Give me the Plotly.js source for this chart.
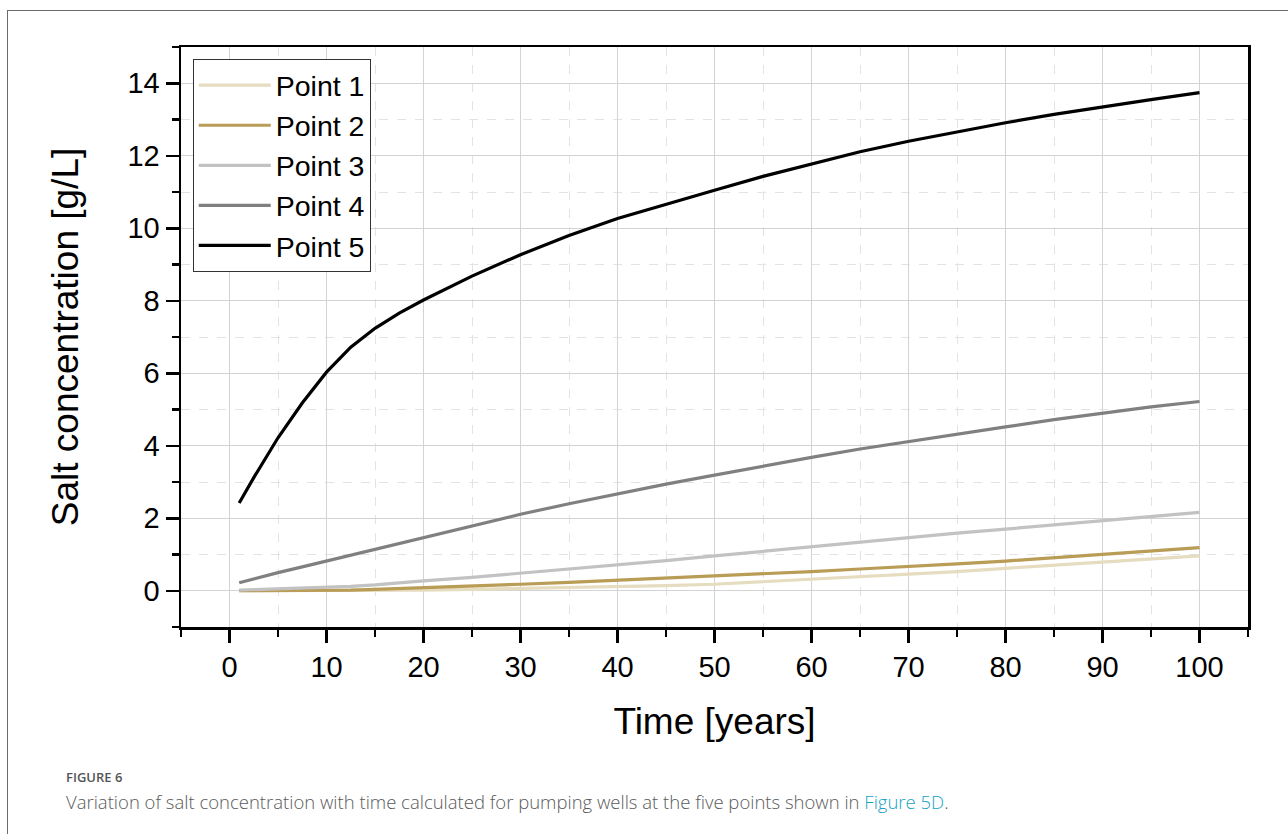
<!DOCTYPE html>
<html>
<head>
<meta charset="utf-8">
<script src="https://cdn.plot.ly/plotly-3.0.1.min.js"></script>
<style>
  html, body { margin: 0; padding: 0; background: #fff; }
  #wrap { position: relative; width: 1288px; height: 834px; overflow: hidden; }
  #frame { position: absolute; left: 7px; top: 10px; width: 1400px; height: 900px;
           border-left: 1px solid #6b6b6b; border-top: 1px solid #6b6b6b; }
  #chart { position: absolute; left: 0; top: 0; width: 1288px; height: 834px; }
  #figlabel { position: absolute; left: 66px; top: 768px; font-family: "Open Sans", "Noto Sans", sans-serif;
              font-size: 13px; color: #555; font-weight: 600; }
  #caption { position: absolute; left: 66px; top: 789px; font-family: "Open Sans", "Noto Sans", sans-serif;
             font-size: 18.5px; color: #5a5a5a; font-weight: 300; }
  #caption span { color: #17a2c4; }
</style>
</head>
<body>
<div id="wrap">
  <div id="chart"></div>
  <div id="frame"></div>
  <div id="figlabel">FIGURE 6</div>
  <div id="caption">Variation of salt concentration with time calculated for pumping wells at the five points shown in <span>Figure 5D</span>.</div>
</div>
<script>
const years = [1, 2.5, 5, 7.5, 10, 12.5, 15, 17.5, 20, 25, 30, 35, 40, 45, 50, 55, 60, 65, 70, 75, 80, 85, 90, 95, 100];
const point1 = [0, 0, 0, 0, 0, 0.005, 0.01, 0.015, 0.02, 0.04, 0.06, 0.08, 0.11, 0.14, 0.18, 0.25, 0.32, 0.38, 0.45, 0.53, 0.62, 0.71, 0.80, 0.88, 0.96];
const point2 = [0, 0, 0, 0, 0.01, 0.02, 0.04, 0.06, 0.08, 0.13, 0.18, 0.23, 0.29, 0.34, 0.39, 0.46, 0.53, 0.60, 0.66, 0.74, 0.82, 0.91, 1.01, 1.10, 1.19];
const point3 = [0.02, 0.03, 0.05, 0.07, 0.09, 0.12, 0.16, 0.22, 0.27, 0.37, 0.48, 0.59, 0.70, 0.83, 0.96, 1.09, 1.22, 1.35, 1.47, 1.59, 1.70, 1.82, 1.94, 2.05, 2.16];
const point4 = [0.22, 0.33, 0.50, 0.66, 0.82, 0.98, 1.15, 1.31, 1.47, 1.80, 2.11, 2.40, 2.68, 2.94, 3.19, 3.44, 3.68, 3.91, 4.12, 4.32, 4.52, 4.72, 4.90, 5.07, 5.22];
const point5 = [2.42, 3.12, 4.22, 5.18, 6.03, 6.72, 7.24, 7.66, 8.02, 8.68, 9.27, 9.80, 10.27, 10.67, 11.05, 11.43, 11.78, 12.11, 12.40, 12.66, 12.91, 13.14, 13.35, 13.55, 13.74];
const seriesNames = ["Point 1", "Point 2", "Point 3", "Point 4", "Point 5"];
const seriesColors = ["#e6dcc0", "#b99c56", "#c2c2c2", "#808080", "#000000"];
const xTickVals = [0, 10, 20, 30, 40, 50, 60, 70, 80, 90, 100];
const yTickVals = [0, 2, 4, 6, 8, 10, 12, 14];

const allSeries = [point1, point2, point3, point4, point5];
const traces = allSeries.map((ys, i) => ({
  x: years, y: ys, name: seriesNames[i], type: 'scatter', mode: 'lines',
  line: { color: seriesColors[i], width: 3.2 }
}));

const font = "Liberation Sans, Arial, sans-serif";
const layout = {
  width: 1288, height: 834,
  margin: { l: 181, r: 40, t: 47, b: 207 },
  paper_bgcolor: 'rgba(0,0,0,0)', plot_bgcolor: '#fff',
  font: { family: font, color: '#000', size: 29 },
  showlegend: true,
  legend: {
    x: 0.011, y: 0.979, xanchor: 'left', yanchor: 'top',
    bgcolor: '#fff', bordercolor: '#333', borderwidth: 1,
    font: { family: font, size: 28.5, color: '#000' },
    itemwidth: 72, tracegroupgap: 0
  },
  xaxis: {
    range: [-5, 105], tickvals: xTickVals, ticktext: xTickVals.map(String),
    showline: true, linecolor: '#000', linewidth: 2.5, mirror: true,
    ticks: 'outside', ticklen: 13, tickwidth: 2.5, tickcolor: '#000',
    tickfont: { family: font, size: 29, color: '#000' },
    showgrid: true, gridcolor: '#d3d3d3', gridwidth: 1.3, zeroline: false,
    minor: { dtick: 5, tick0: 0, ticks: 'outside', ticklen: 7, tickwidth: 2.5, tickcolor: '#000',
             showgrid: true, gridcolor: '#e3e3e3', gridwidth: 1, griddash: 'dash' },
    title: { text: 'Time [years]', font: { family: font, size: 37, color: '#000' }, standoff: 26 }
  },
  yaxis: {
    range: [-1, 15], tickvals: yTickVals, ticktext: yTickVals.map(String),
    showline: true, linecolor: '#000', linewidth: 2.5, mirror: true,
    ticks: 'outside', ticklen: 13, tickwidth: 2.5, tickcolor: '#000',
    tickfont: { family: font, size: 29, color: '#000' },
    showgrid: true, gridcolor: '#d3d3d3', gridwidth: 1.3, zeroline: false,
    minor: { dtick: 1, tick0: 0, ticks: 'outside', ticklen: 7, tickwidth: 2.5, tickcolor: '#000',
             showgrid: true, gridcolor: '#e3e3e3', gridwidth: 1, griddash: 'dash' },
    title: { text: 'Salt concentration [g/L]', font: { family: font, size: 37, color: '#000' }, standoff: 38 }
  }
};
Plotly.newPlot('chart', traces, layout, { displayModeBar: false, staticPlot: true });
</script>
</body>
</html>
